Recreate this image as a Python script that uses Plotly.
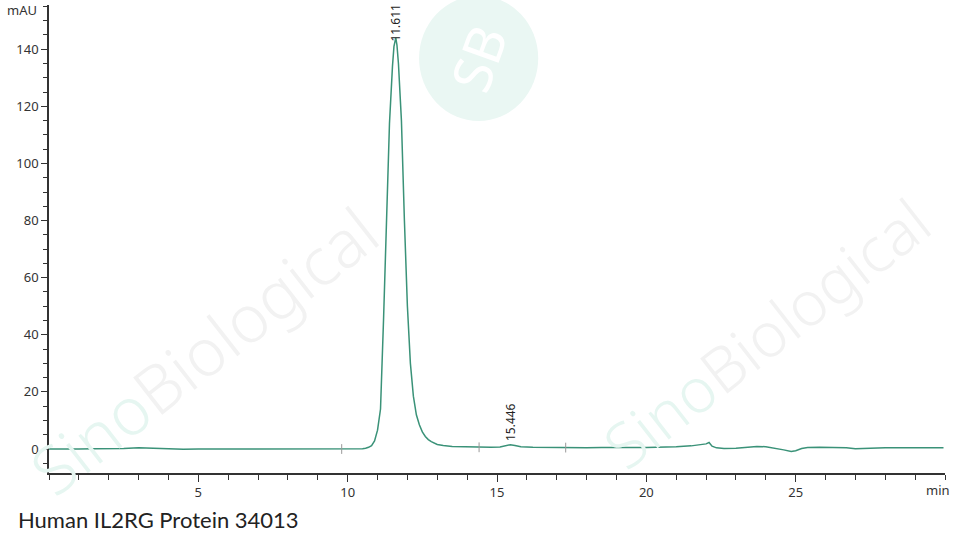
import numpy as np
import plotly.graph_objects as go

# Retention time (min) and absorbance (mAU)
time_min = [0, 0.5, 1, 1.5, 2, 2.5, 3, 3.3, 3.6, 4, 4.5, 5, 5.5, 6, 6.5, 7, 7.5, 8, 8.5, 9, 9.5, 10,
            10.3, 10.5, 10.6, 10.7, 10.8, 10.9, 11.0, 11.1, 11.2, 11.3, 11.4, 11.5, 11.55, 11.611, 11.65,
            11.7, 11.8, 11.9, 12.0, 12.1, 12.2, 12.3, 12.4, 12.5, 12.6, 12.7, 12.8, 13.0, 13.2, 13.5,
            14.0, 14.4, 14.8, 15.1, 15.3, 15.446, 15.6, 15.8, 16.2, 16.8, 17.3, 18, 18.5, 19, 19.5, 20,
            20.5, 21, 21.5, 21.8, 22.0, 22.1, 22.2, 22.35, 22.6, 23, 23.4, 23.7, 24.0, 24.3, 24.6, 24.85,
            25.0, 25.2, 25.4, 25.8, 26.3, 26.7, 27.0, 27.4, 28, 28.5, 29, 29.5, 29.95]
absorbance_mau = [0.0, -0.1, 0.0, 0.1, 0.1, 0.2, 0.4, 0.3, 0.2, 0.0, -0.1, 0.0, 0.0, -0.1, 0.0, 0.0, 0.0, -0.1, 0.0, 0.0, 0.0, 0.0,
                  0.0, 0.1, 0.3, 0.6, 1.2, 2.8, 6.6, 14, 45, 82, 114, 134, 141, 144, 141.5,
                  135, 115, 80, 50, 30, 18.5, 12, 8.5, 6.0, 4.4, 3.3, 2.6, 1.6, 1.2, 0.9,
                  0.7, 0.6, 0.6, 0.7, 1.1, 1.5, 1.2, 0.8, 0.6, 0.5, 0.5, 0.4, 0.5, 0.4, 0.5, 0.5,
                  0.6, 0.8, 1.1, 1.4, 1.8, 2.3, 1.0, 0.4, 0.2, 0.3, 0.6, 0.9, 0.8, 0.3, -0.3, -0.9,
                  -0.6, 0.2, 0.5, 0.6, 0.6, 0.4, 0.1, 0.3, 0.4, 0.45, 0.4, 0.45, 0.45]

peak_times = [11.611, 15.446]
peak_labels = ["11.611", "15.446"]
event_marks = [9.8, 14.4, 17.3]

x_ticks = [5, 10, 15, 20, 25]
y_ticks = [0, 20, 40, 60, 80, 100, 120, 140]

line_color = "#3a9278"
axis_color = "#333333"
font_family = "Noto Sans"

fig = go.Figure()
fig.add_trace(go.Scatter(x=time_min, y=absorbance_mau, mode="lines",
                         line=dict(color=line_color, width=1.5), hoverinfo="skip",
                         showlegend=False))
fig.add_trace(go.Scatter(x=event_marks, y=list(np.interp(event_marks, time_min, absorbance_mau)),
                         mode="markers",
                         marker=dict(symbol="line-ns", size=7, line=dict(color="#999999", width=1)),
                         showlegend=False, hoverinfo="skip"))

peak_heights = list(np.interp(peak_times, time_min, absorbance_mau))
for t, h, lab, ys in zip(peak_times, peak_heights, peak_labels, [-6, 2]):
    fig.add_annotation(x=t, y=h, text=lab, textangle=-90, showarrow=False,
                       yanchor="bottom", xanchor="center", yshift=ys,
                       font=dict(family=font_family, size=12, color="#222222"))

# Watermarks (faint)
fig.add_shape(type="circle", xref="paper", yref="paper", x0=0.413, x1=0.546, y0=0.752, y1=1.02,
              fillcolor="#eaf7f3", line=dict(width=0), layer="below")
fig.add_annotation(xref="paper", yref="paper", x=0.479, y=0.886, text="SB", showarrow=False,
                   xanchor="center", yanchor="middle",
                   textangle=-70, font=dict(family=font_family, size=54, color="#ffffff"))
wm = "<span style='color:#e6f6f1'>Sino</span><span style='color:#f2f2f2'>Biological</span>"
fig.add_annotation(xref="paper", yref="paper", x=0.172, y=0.262, text=wm, showarrow=False,
                   xanchor="center", yanchor="middle",
                   textangle=-38, font=dict(family=font_family, size=66, weight=300))
fig.add_annotation(xref="paper", yref="paper", x=0.80, y=0.30, text=wm, showarrow=False,
                   xanchor="center", yanchor="middle",
                   textangle=-38, font=dict(family=font_family, size=62, weight=300))

fig.add_annotation(xref="paper", yref="paper", x=-0.030, y=0.989, text="mAU", showarrow=False,
                   xanchor="center", yanchor="middle",
                   font=dict(family=font_family, size=13, color=axis_color))
fig.add_annotation(xref="paper", yref="paper", x=0.992, y=-0.036, text="min", showarrow=False,
                   xanchor="center", yanchor="middle",
                   font=dict(family=font_family, size=13, color=axis_color))
fig.add_annotation(xref="paper", yref="paper", x=-0.037, y=-0.100, text="Human IL2RG Protein 34013",
                   showarrow=False, xanchor="left", yanchor="middle",
                   font=dict(family="Lato", size=22, color="#222222"))

fig.update_layout(
    width=959, height=545,
    margin=dict(l=49, r=14, t=5, b=72, autoexpand=False),
    paper_bgcolor="white", plot_bgcolor="white",
    font=dict(family=font_family, size=13, color=axis_color),
    xaxis=dict(range=[0, 30], tickvals=x_ticks, ticks="outside", ticklen=7, tickcolor=axis_color,
               showline=True, linecolor=axis_color, linewidth=1.5, showgrid=False, zeroline=False,
               minor=dict(dtick=1, tick0=0, ticks="outside", ticklen=5, tickcolor=axis_color),
               tickfont=dict(size=13, color=axis_color)),
    yaxis=dict(range=[-8.4, 155.5], tickvals=y_ticks, ticks="outside", ticklen=6, tickcolor=axis_color,
               showline=True, linecolor=axis_color, linewidth=1.5, showgrid=False, zeroline=False,
               minor=dict(dtick=5, tick0=0, ticks="outside", ticklen=4, tickcolor=axis_color),
               tickfont=dict(size=13, color=axis_color)),
)

fig.write_html("out.html", config={"displayModeBar": False},
               post_script="document.body.style.margin='0';document.body.style.overflow='hidden';")
